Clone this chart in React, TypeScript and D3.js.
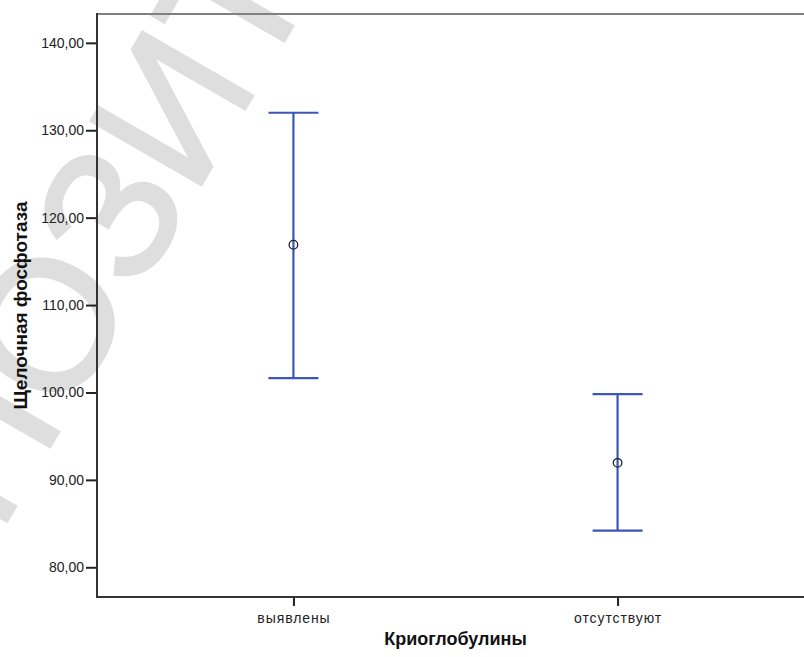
import React, { useEffect, useRef } from "react";
import * as d3 from "d3";

// group labels and error-bar values
const groups = ["выявлены", "отсутствуют"];
const means = [116.9, 91.95];
const lower = [101.65, 84.2];
const upper = [132.0, 99.8];
const yTicks = [80, 90, 100, 110, 120, 130, 140];

const FONT = "Arial, 'Liberation Sans', sans-serif";

const App = () => {
  const svgRef = useRef<SVGSVGElement>(null);

  useEffect(() => {
    const svg = d3.select(svgRef.current);
    svg.selectAll("*").remove();

    const width = 804, height = 657;
    const margin = { top: 14, left: 97, bottom: 60 };
    const plotRight = 814; // the plot runs past the right edge of the picture
    const bottom = height - margin.bottom;

    const x = d3.scalePoint<string>()
      .domain(groups)
      .range([margin.left, plotRight])
      .padding(0.606);

    const y = d3.scaleLinear()
      .domain([76.6, 143.3])
      .range([bottom, margin.top]);

    svg.append("rect").attr("width", width).attr("height", height).attr("fill", "#fff");

    // watermark behind everything
    svg.append("text")
      .attr("x", -124)
      .attr("y", 748)
      .attr("transform", "rotate(-60,-124,748)")
      .attr("font-family", FONT)
      .attr("font-size", 185)
      .attr("fill", "#dedede")
      .attr("stroke", "#dedede")
      .attr("stroke-width", 3)
      .text("РЕПОЗИТОРИЙ");

    // top frame line
    svg.append("line")
      .attr("x1", margin.left).attr("x2", width)
      .attr("y1", margin.top).attr("y2", margin.top)
      .attr("stroke", "#808080").attr("stroke-width", 2);

    // y axis
    const yAxis = svg.append("g")
      .attr("transform", `translate(${margin.left},0)`)
      .call(d3.axisLeft(y)
        .tickValues(yTicks)
        .tickSize(11)
        .tickPadding(2)
        .tickSizeOuter(0)
        .tickFormat(d => (d as number).toFixed(2).replace(".", ",")));
    yAxis.select(".domain").remove();
    yAxis.selectAll(".tick line").attr("stroke", "#222").attr("stroke-width", 2);
    yAxis.selectAll(".tick text")
      .attr("font-family", FONT).attr("font-size", 14).attr("fill", "#222");
    svg.append("line")
      .attr("x1", margin.left).attr("x2", margin.left)
      .attr("y1", margin.top - 1).attr("y2", bottom + 1)
      .attr("stroke", "#333").attr("stroke-width", 2);

    // x axis
    const xAxis = svg.append("g")
      .attr("transform", `translate(0,${bottom})`)
      .call(d3.axisBottom(x).tickSize(9).tickPadding(7).tickSizeOuter(0));
    xAxis.select(".domain").remove();
    xAxis.selectAll(".tick line").attr("stroke", "#222").attr("stroke-width", 2);
    xAxis.selectAll(".tick text")
      .attr("font-family", FONT).attr("font-size", 14)
      .attr("letter-spacing", 0.9).attr("fill", "#222");
    svg.append("line")
      .attr("x1", margin.left - 1).attr("x2", width)
      .attr("y1", bottom).attr("y2", bottom)
      .attr("stroke", "#333").attr("stroke-width", 2);

    // axis titles
    svg.append("text")
      .attr("x", (margin.left + plotRight) / 2)
      .attr("y", 645)
      .attr("text-anchor", "middle")
      .attr("font-family", FONT).attr("font-weight", "bold").attr("font-size", 18)
      .attr("fill", "#111")
      .text("Криоглобулины");

    svg.append("text")
      .attr("transform", `translate(27,${(margin.top + bottom) / 2}) rotate(-90)`)
      .attr("text-anchor", "middle")
      .attr("font-family", FONT).attr("font-weight", "bold").attr("font-size", 19)
      .attr("fill", "#111")
      .text("Щелочная фосфотаза");

    // error bars
    const blue = "#3c56b8";
    const capHalf = 25;
    const bars = svg.append("g");
    groups.forEach((g, i) => {
      const cx = x(g) as number;
      bars.append("line")
        .attr("x1", cx).attr("x2", cx)
        .attr("y1", y(upper[i])).attr("y2", y(lower[i]))
        .attr("stroke", blue).attr("stroke-width", 2.2);
      [upper[i], lower[i]].forEach(v => {
        bars.append("line")
          .attr("x1", cx - capHalf).attr("x2", cx + capHalf)
          .attr("y1", y(v)).attr("y2", y(v))
          .attr("stroke", blue).attr("stroke-width", 2.2);
      });
    });

    svg.append("g").selectAll("circle")
      .data(means)
      .join("circle")
      .attr("cx", (d, i) => x(groups[i]) as number)
      .attr("cy", d => y(d))
      .attr("r", 4.3)
      .attr("fill", "none")
      .attr("stroke", "#222")
      .attr("stroke-width", 1.3);
  }, []);

  return (
    <svg ref={svgRef} width={804} height={657}
      style={{ position: "absolute", left: 0, top: 0, display: "block" }} />
  );
};

export default App;
